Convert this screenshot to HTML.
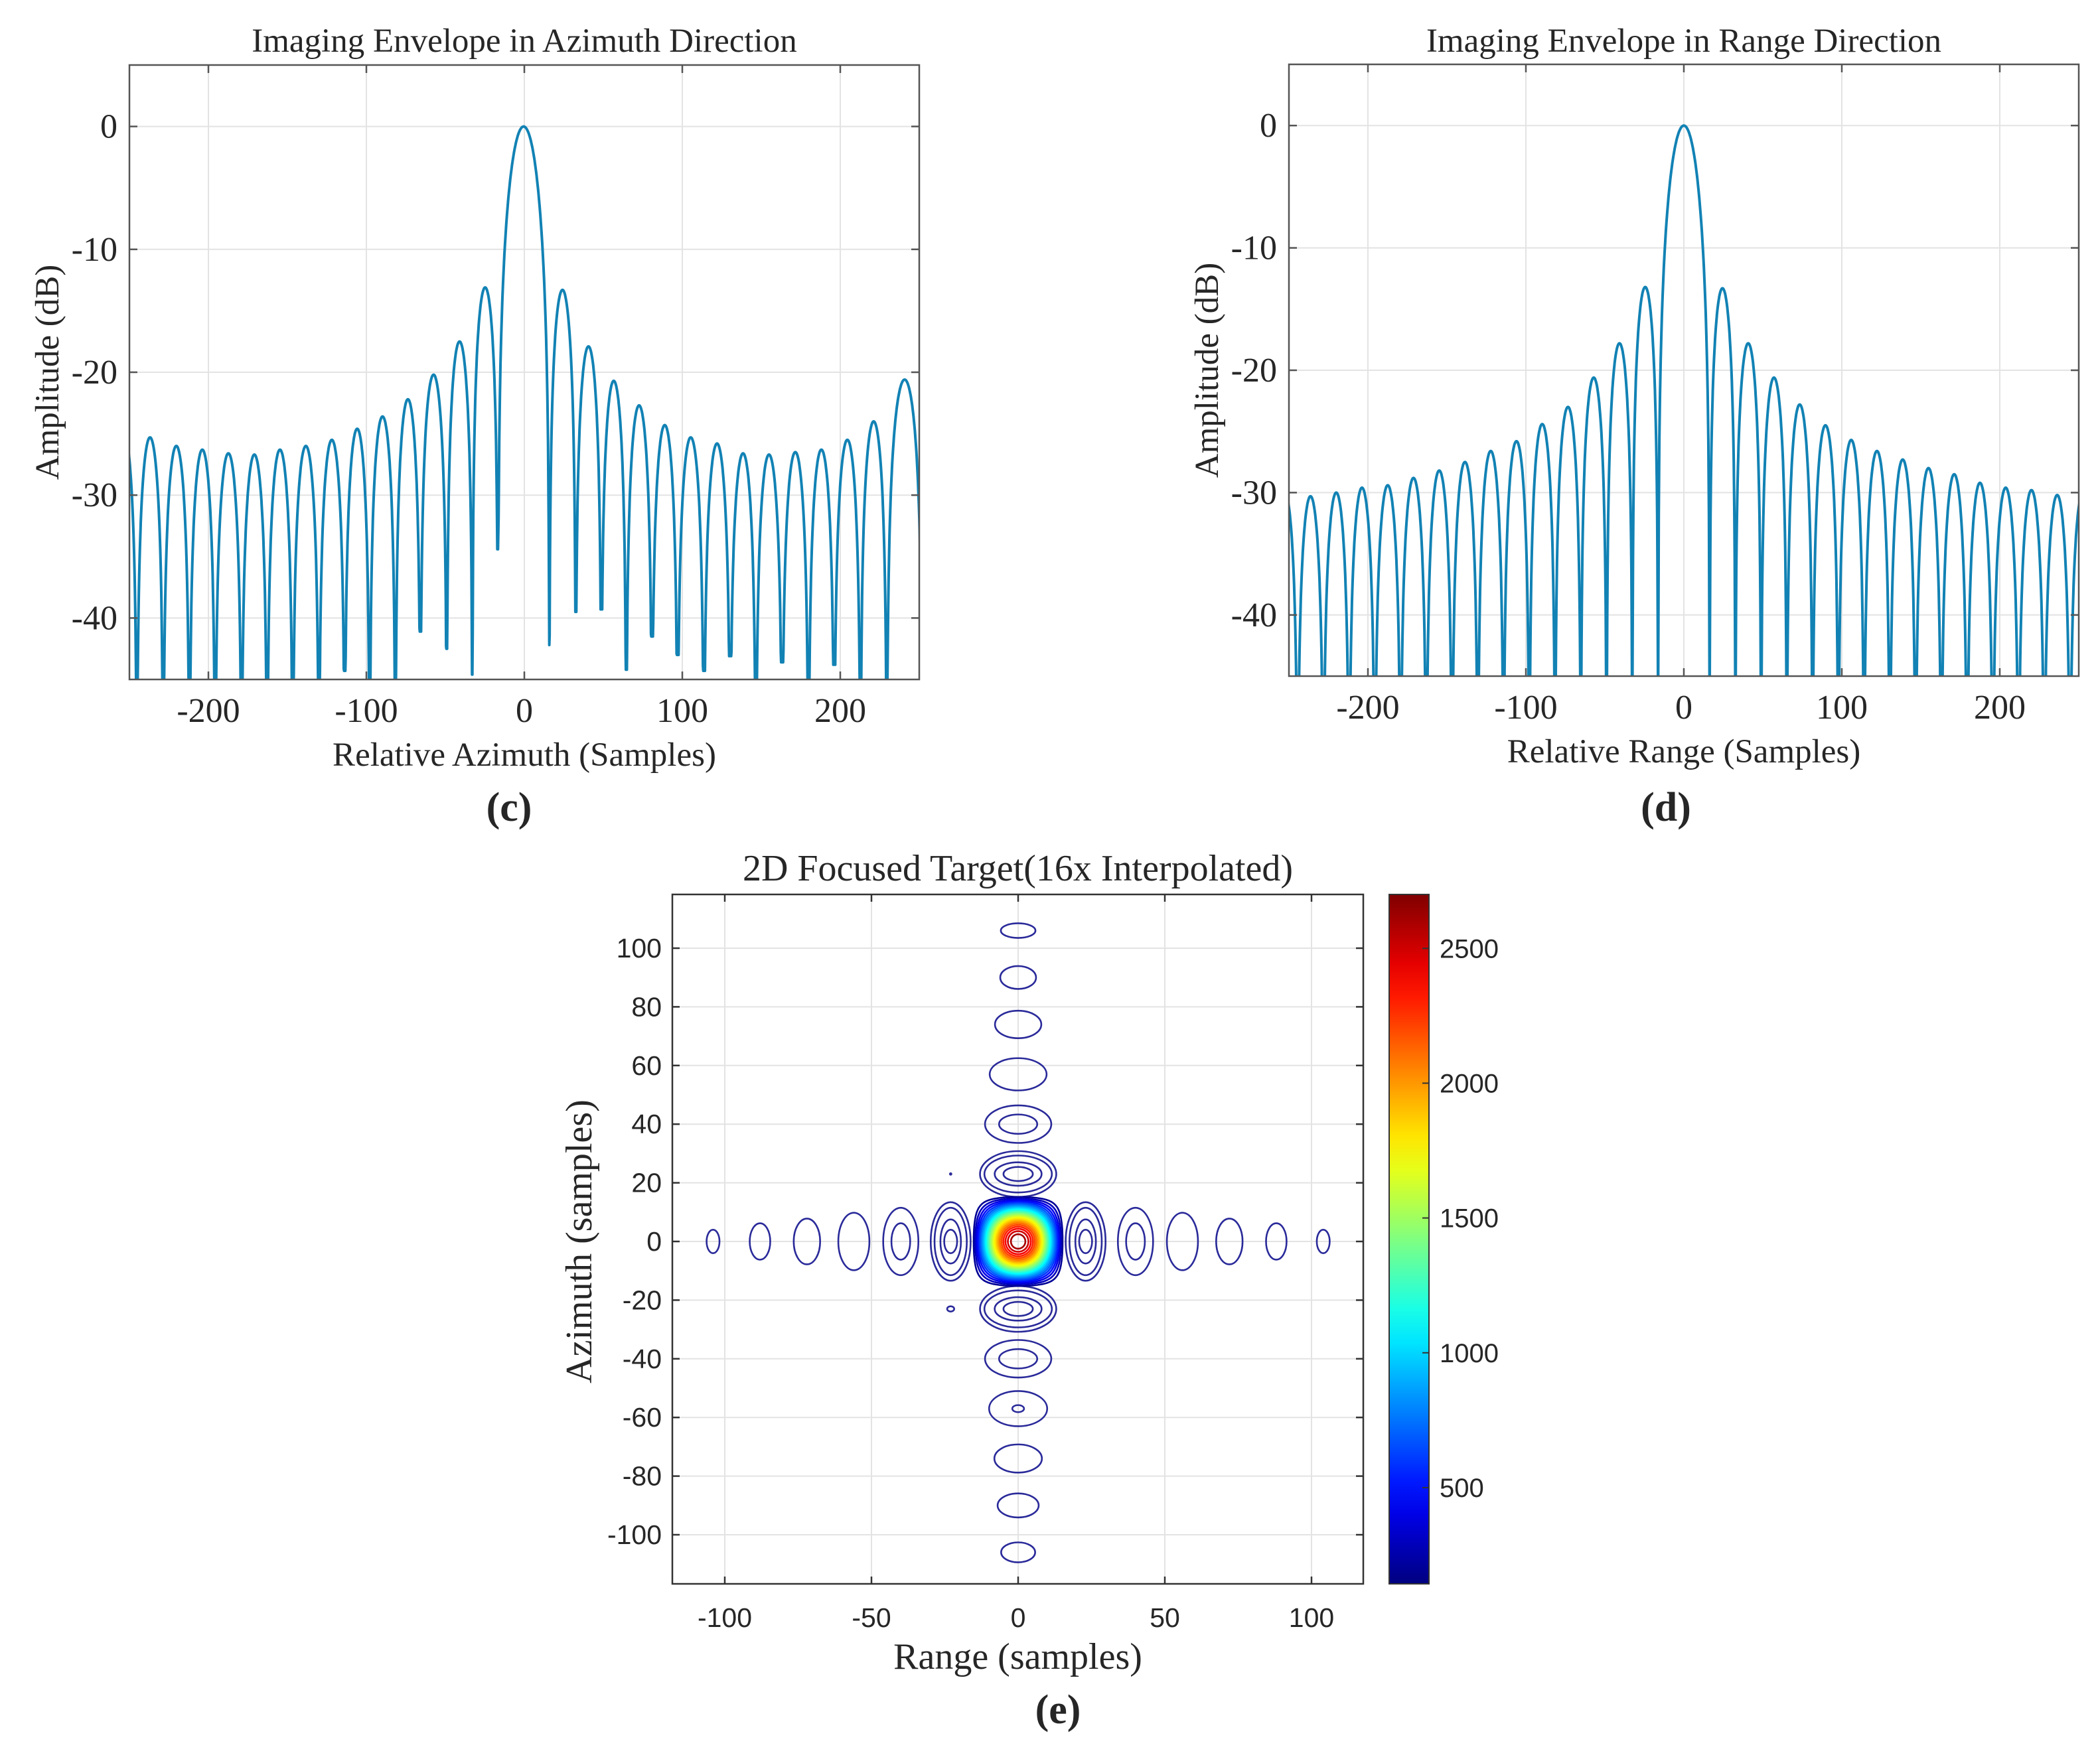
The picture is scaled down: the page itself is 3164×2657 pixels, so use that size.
<!DOCTYPE html>
<html><head><meta charset="utf-8"><style>
html,body{margin:0;padding:0;background:#fff;}
svg{display:block;}
.serif{font-family:"Liberation Serif",serif;fill:#262626;}
.sans{font-family:"Liberation Sans",sans-serif;fill:#262626;}
</style></head><body>
<svg id="fig" width="3164" height="2657" viewBox="0 0 3164 2657" xmlns="http://www.w3.org/2000/svg"></svg>
<script>
// ---------- data: panel (c) azimuth envelope ----------
const cNullX = [-262,-245.3,-228.6,-212,-195.7,-179,-162.8,-146.6,-130,-113.7,-97.9,-81.6,-65.8,-49.1,-32.9,-16.7,
  15.8,32.5,48.7,64.5,80.8,97,113.7,130.3,146.6,163.2,179.9,196.2,212.8,229.5,252];
const cNullDB = [-46,-46,-46,-46,-46,-46,-46,-46,-46,-44.3,-46,-46,-41.1,-42.5,-44.6,-34.4,
  -42.2,-39.5,-39.3,-44.2,-41.5,-43,-44.3,-43.1,-46,-43.6,-46,-43.8,-46,-46,-46];
const cPeakDB = [-24.9,-25.3,-26.0,-26.3,-26.6,-26.7,-26.3,-26.0,-25.5,-24.6,-23.6,-22.2,-20.2,-17.5,-13.1,
  0,
  -13.3,-17.9,-20.7,-22.7,-24.3,-25.3,-25.8,-26.6,-26.7,-26.5,-26.3,-25.5,-24.0,-20.6];
// ---------- data: panel (d) range envelope ----------
const dNullX = [-260.8,-244.5,-228.2,-211.9,-195.6,-179.3,-163,-146.7,-130.4,-114.1,-97.8,-81.5,-65.2,-48.9,-32.6,-16.3,
  16.3,32.6,48.9,65.2,81.5,97.8,114.1,130.4,146.7,163,179.3,195.6,211.9,228.2,244.5,260.8];
const dNullDB = [-48,-48,-48,-48,-48,-48,-48,-48,-48,-48,-48,-48,-48,-48,-48,-48,
  -48,-48,-48,-48,-48,-48,-48,-48,-48,-48,-48,-48,-48,-48,-48,-48];
const dPeakDB = [-30,-30.3,-30,-29.6,-29.4,-28.8,-28.2,-27.5,-26.6,-25.8,-24.4,-23,-20.6,-17.8,-13.2,
  0,
  -13.3,-17.8,-20.6,-22.8,-24.5,-25.7,-26.6,-27.3,-28,-28.5,-29.2,-29.6,-29.8,-30.2,-30];
const envXTicks = [-200,-100,0,100,200];
const envYTicks = [0,-10,-20,-30,-40];
// ---------- data: panel (e) contour ----------
const centerLevels = [200,300,400,500,600,700,800,900,1000,1100,1200,1300,1400,1500,1600,1700,1800,1900,2000,2100,2200,2300,2400,2500,2600];
const peakAmp = 2700;
const lobeWidth = 16.3;
// side-lobe contour ellipses: centre x, centre y, half-width, half-height (samples)
const ellCX = [0,0,0,0,0,0,0,0,0,0,0, 0,0,0,0,0,0,0,0,0,0,
  104,88,72,56,40,40,23,23,23,23, -104,-88,-72,-56,-40,-40,-23,-23,-23,-23, -23,-23];
const ellCY = [106,90,74,57,40,40,23,23,23,23,-23, -23,-23,-23,-40,-40,-57,-57,-74,-90,-106,
  0,0,0,0,0,0,0,0,0,0, 0,0,0,0,0,0,0,0,0,0, 23,-23];
const ellRX = [5.9,6.1,7.9,9.7,11.3,6.5,13,11.5,8,5,13, 11.5,8,5,11.3,6.5,9.9,2,8.1,7,5.8,
  2.2,3.5,4.5,5.3,6,3.2,6.8,5.5,3.5,2.2, 2.2,3.5,4.5,5.3,6,3.2,6.8,5.5,3.5,2.2, 0.25,1.2];
const ellRY = [2.5,3.9,4.7,5.5,6.4,3.3,7.8,6.3,4,2.4,7.8, 6.3,4,2.4,6.4,3.3,6,1.2,4.8,4.1,3.4,
  4,6.2,7.8,9.8,11.5,6.2,13.4,11.5,7.5,4, 4,6.2,7.8,9.8,11.5,6.2,13.4,11.5,7.5,4, 0.25,0.9];
const eTicksX = [-100,-50,0,50,100];
const eTicksY = [100,80,60,40,20,0,-20,-40,-60,-80,-100];
const cbTicks = [500,1000,1500,2000,2500];
const cbMin = 143, cbMax = 2700;

const NS = "http://www.w3.org/2000/svg";
const svg = document.getElementById('fig');
function mk(tag, attrs, parent){
  const e = document.createElementNS(NS, tag);
  for (const k in attrs) e.setAttribute(k, attrs[k]);
  (parent||svg).appendChild(e);
  return e;
}
function txt(str, x, y, size, cls, anchor, parent){
  const t = mk('text', {x:x, y:y, 'font-size':size, 'class':cls, 'text-anchor':anchor||'middle'}, parent);
  t.textContent = str;
  return t;
}
function jet(v){
  v = Math.max(0, Math.min(1, v));
  const r = Math.max(0, Math.min(1, 1.5 - Math.abs(4*v - 3)));
  const g = Math.max(0, Math.min(1, 1.5 - Math.abs(4*v - 2)));
  const b = Math.max(0, Math.min(1, 1.5 - Math.abs(4*v - 1)));
  return 'rgb(' + Math.round(r*255) + ',' + Math.round(g*255) + ',' + Math.round(b*255) + ')';
}

// ---------- envelope panel ----------
function envPanel(id, box, nulls, depths, peaks, title, xlabel, letter, letterX){
  const g = mk('g', {});
  
  
  const xmin=-250, xmax=250, ymin=-45, ymax=5;
  const sx = v => box.x0 + (v - xmin) / (xmax - xmin) * (box.x1 - box.x0);
  const sy = v => box.y1 - (v - ymin) / (ymax - ymin) * (box.y1 - box.y0);
  envXTicks.forEach(t => {
    const l = mk('line', {x1:sx(t), x2:sx(t), y1:box.y0, y2:box.y1, stroke:'#e3e3e3', 'stroke-width':2}, g);
    
    
  });
  envYTicks.forEach(t => {
    const l = mk('line', {x1:box.x0, x2:box.x1, y1:sy(t), y2:sy(t), stroke:'#e3e3e3', 'stroke-width':2}, g);
    
    
  });
  const cp = mk('clipPath', {id: id + '-clip'}, g);
  mk('rect', {x:box.x0, y:box.y0, width:box.x1-box.x0, height:box.y1-box.y0}, cp);
  let d = '';
  for (let i = 0; i < peaks.length; i++){
    const a = nulls[i], b = nulls[i+1], h = peaks[i];
    const N = 80;
    for (let n = 0; n <= N; n++){
      const t = n / N;
      let db;
      if (h === 0){
        const u = 2*t - 1;
        const s = Math.abs(u) < 1e-9 ? 1 : Math.sin(Math.PI*u)/(Math.PI*u);
        db = 20*Math.log10(Math.abs(s) + 1e-12);
      } else {
        db = h + 20*Math.log10(Math.abs(Math.sin(Math.PI*t)) + 1e-12);
      }
      const fl = t < 0.5 ? depths[i] : depths[i+1];
      db = Math.max(db, fl);
      const x = a + (b - a) * t;
      d += (d === '' ? 'M' : 'L') + sx(x).toFixed(1) + ',' + sy(db).toFixed(1);
    }
  }
  const p = mk('path', {d:d, fill:'none', stroke:'#1282b4', 'stroke-width':4, 'stroke-linejoin':'round', 'clip-path':'url(#' + id + '-clip)'}, g);
  
  
  const r = mk('rect', {x:box.x0, y:box.y0, width:box.x1-box.x0, height:box.y1-box.y0, fill:'none', stroke:'#555', 'stroke-width':2.5}, g);
  
  
  envXTicks.forEach(t => {
    mk('line', {x1:sx(t), x2:sx(t), y1:box.y1, y2:box.y1-12, stroke:'#555', 'stroke-width':2.5}, g);
    mk('line', {x1:sx(t), x2:sx(t), y1:box.y0, y2:box.y0+12, stroke:'#555', 'stroke-width':2.5}, g);
    const tl = txt(String(t), sx(t), box.y1 + 64, 52, 'serif', 'middle', g);
    
    
  });
  envYTicks.forEach(t => {
    mk('line', {x1:box.x0, x2:box.x0+12, y1:sy(t), y2:sy(t), stroke:'#555', 'stroke-width':2.5}, g);
    mk('line', {x1:box.x1, x2:box.x1-12, y1:sy(t), y2:sy(t), stroke:'#555', 'stroke-width':2.5}, g);
    const tl = txt(String(t), box.x0 - 18, sy(t) + 17, 52, 'serif', 'end', g);
    
    
  });
  const ti = txt(title, (box.x0+box.x1)/2, 78, 51, 'serif', 'middle', g);
  
  
  const xl = txt(xlabel, (box.x0+box.x1)/2, box.y1 + 130, 51, 'serif', 'middle', g);
  
  
  const yc = (box.y0+box.y1)/2, yx = box.x0 - 124;
  const yl = txt('Amplitude (dB)', yx, yc, 51, 'serif', 'middle', g);
  yl.setAttribute('transform', 'rotate(-90 ' + yx + ' ' + yc + ')');
  yl.setAttribute('dy', '17');
  
  
  const lt = txt(letter, letterX, 1237, 62, 'serif', 'middle', g);
  lt.setAttribute('font-weight', 'bold');
  
  
}
envPanel('azimuth', {x0:195, x1:1385, y0:98, y1:1024}, cNullX, cNullDB, cPeakDB,
  'Imaging Envelope in Azimuth Direction', 'Relative Azimuth (Samples)', '(c)', 767);
envPanel('range', {x0:1942, x1:3132, y0:97, y1:1019}, dNullX, dNullDB, dPeakDB,
  'Imaging Envelope in Range Direction', 'Relative Range (Samples)', '(d)', 2510);

// ---------- contour panel ----------
(function(){
  const g = mk('g', {});
  
  
  const box = {x0:1013, x1:2054, y0:1348, y1:2387};
  const scale = 4.42, cx0 = 1534, cy0 = 1871;
  const sx = v => cx0 + v*scale;
  const sy = v => cy0 - v*scale;
  eTicksX.forEach(t => {
    const l = mk('line', {x1:sx(t), x2:sx(t), y1:box.y0, y2:box.y1, stroke:'#e3e3e3', 'stroke-width':2}, g);
    
    
  });
  eTicksY.forEach(t => {
    const l = mk('line', {x1:box.x0, x2:box.x1, y1:sy(t), y2:sy(t), stroke:'#e3e3e3', 'stroke-width':2}, g);
    
    
  });
  const lowColor = '#2a2a9a';
  for (let i = 0; i < ellCX.length; i++){
    const e = mk('ellipse', {cx:sx(ellCX[i]), cy:sy(ellCY[i]), rx:Math.max(ellRX[i]*scale,1), ry:Math.max(ellRY[i]*scale,1),
      fill:'none', stroke:lowColor, 'stroke-width':2.6}, g);
    
    
  }
  const sinc = u => Math.abs(u) < 1e-9 ? 1 : Math.sin(Math.PI*u)/(Math.PI*u);
  const f = (x, y) => peakAmp * sinc(x/lobeWidth) * sinc(y/lobeWidth);
  centerLevels.forEach(L => {
    let d = '';
    const M = 180;
    for (let k = 0; k <= M; k++){
      const th = k / M * 2 * Math.PI;
      const c = Math.cos(th), s = Math.sin(th);
      let lo = 0, hi = lobeWidth / Math.max(Math.abs(c), Math.abs(s)) * 0.999;
      for (let it = 0; it < 40; it++){
        const mid = (lo + hi)/2;
        if (f(mid*c, mid*s) > L) lo = mid; else hi = mid;
      }
      const r = (lo + hi)/2;
      d += (k === 0 ? 'M' : 'L') + sx(r*c).toFixed(1) + ',' + sy(r*s).toFixed(1);
    }
    const p = mk('path', {d:d + 'Z', fill:'none', stroke:jet((L - cbMin)/(cbMax - cbMin)), 'stroke-width':2.6}, g);
    
    
  });
  const r = mk('rect', {x:box.x0, y:box.y0, width:box.x1-box.x0, height:box.y1-box.y0, fill:'none', stroke:'#333', 'stroke-width':2.5}, g);
  
  
  eTicksX.forEach(t => {
    mk('line', {x1:sx(t), x2:sx(t), y1:box.y1, y2:box.y1-11, stroke:'#333', 'stroke-width':2.5}, g);
    mk('line', {x1:sx(t), x2:sx(t), y1:box.y0, y2:box.y0+11, stroke:'#333', 'stroke-width':2.5}, g);
    const tl = txt(String(t), sx(t), 2452, 41, 'sans', 'middle', g);
    
    
  });
  eTicksY.forEach(t => {
    mk('line', {x1:box.x0, x2:box.x0+11, y1:sy(t), y2:sy(t), stroke:'#333', 'stroke-width':2.5}, g);
    mk('line', {x1:box.x1, x2:box.x1-11, y1:sy(t), y2:sy(t), stroke:'#333', 'stroke-width':2.5}, g);
    const tl = txt(String(t), box.x0 - 16, sy(t) + 14, 41, 'sans', 'end', g);
    
    
  });
  const ti = txt('2D Focused Target(16x Interpolated)', (box.x0+box.x1)/2, 1327, 56, 'serif', 'middle', g);
  
  
  const xl = txt('Range (samples)', (box.x0+box.x1)/2, 2515, 56, 'serif', 'middle', g);
  
  
  const yx = 872, yc = 1871;
  const yl = txt('Azimuth (samples)', yx, yc, 56, 'serif', 'middle', g);
  yl.setAttribute('transform', 'rotate(-90 ' + yx + ' ' + yc + ')');
  yl.setAttribute('dy', '19');
  
  
  const lt = txt('(e)', 1594, 2597, 62, 'serif', 'middle', g);
  lt.setAttribute('font-weight', 'bold');
  
  
  const cb = {x0:2093, x1:2153, y0:1348, y1:2387};
  const defs = mk('defs', {}, g);
  const lg = mk('linearGradient', {id:'jetgrad', x1:0, y1:1, x2:0, y2:0}, defs);
  for (let i = 0; i <= 20; i++){
    mk('stop', {offset:(i/20), 'stop-color':jet(i/20)}, lg);
  }
  const cr = mk('rect', {x:cb.x0, y:cb.y0, width:cb.x1-cb.x0, height:cb.y1-cb.y0, fill:'url(#jetgrad)', stroke:'#333', 'stroke-width':2}, g);
  
  
  const cby = v => cb.y1 - (v - cbMin)/(cbMax - cbMin)*(cb.y1 - cb.y0);
  cbTicks.forEach(t => {
    mk('line', {x1:cb.x1, x2:cb.x1-10, y1:cby(t), y2:cby(t), stroke:'#333', 'stroke-width':2}, g);
    const tl = txt(String(t), cb.x1 + 16, cby(t) + 14, 40, 'sans', 'start', g);
    
    
  });
})();
</script>
</body></html>
